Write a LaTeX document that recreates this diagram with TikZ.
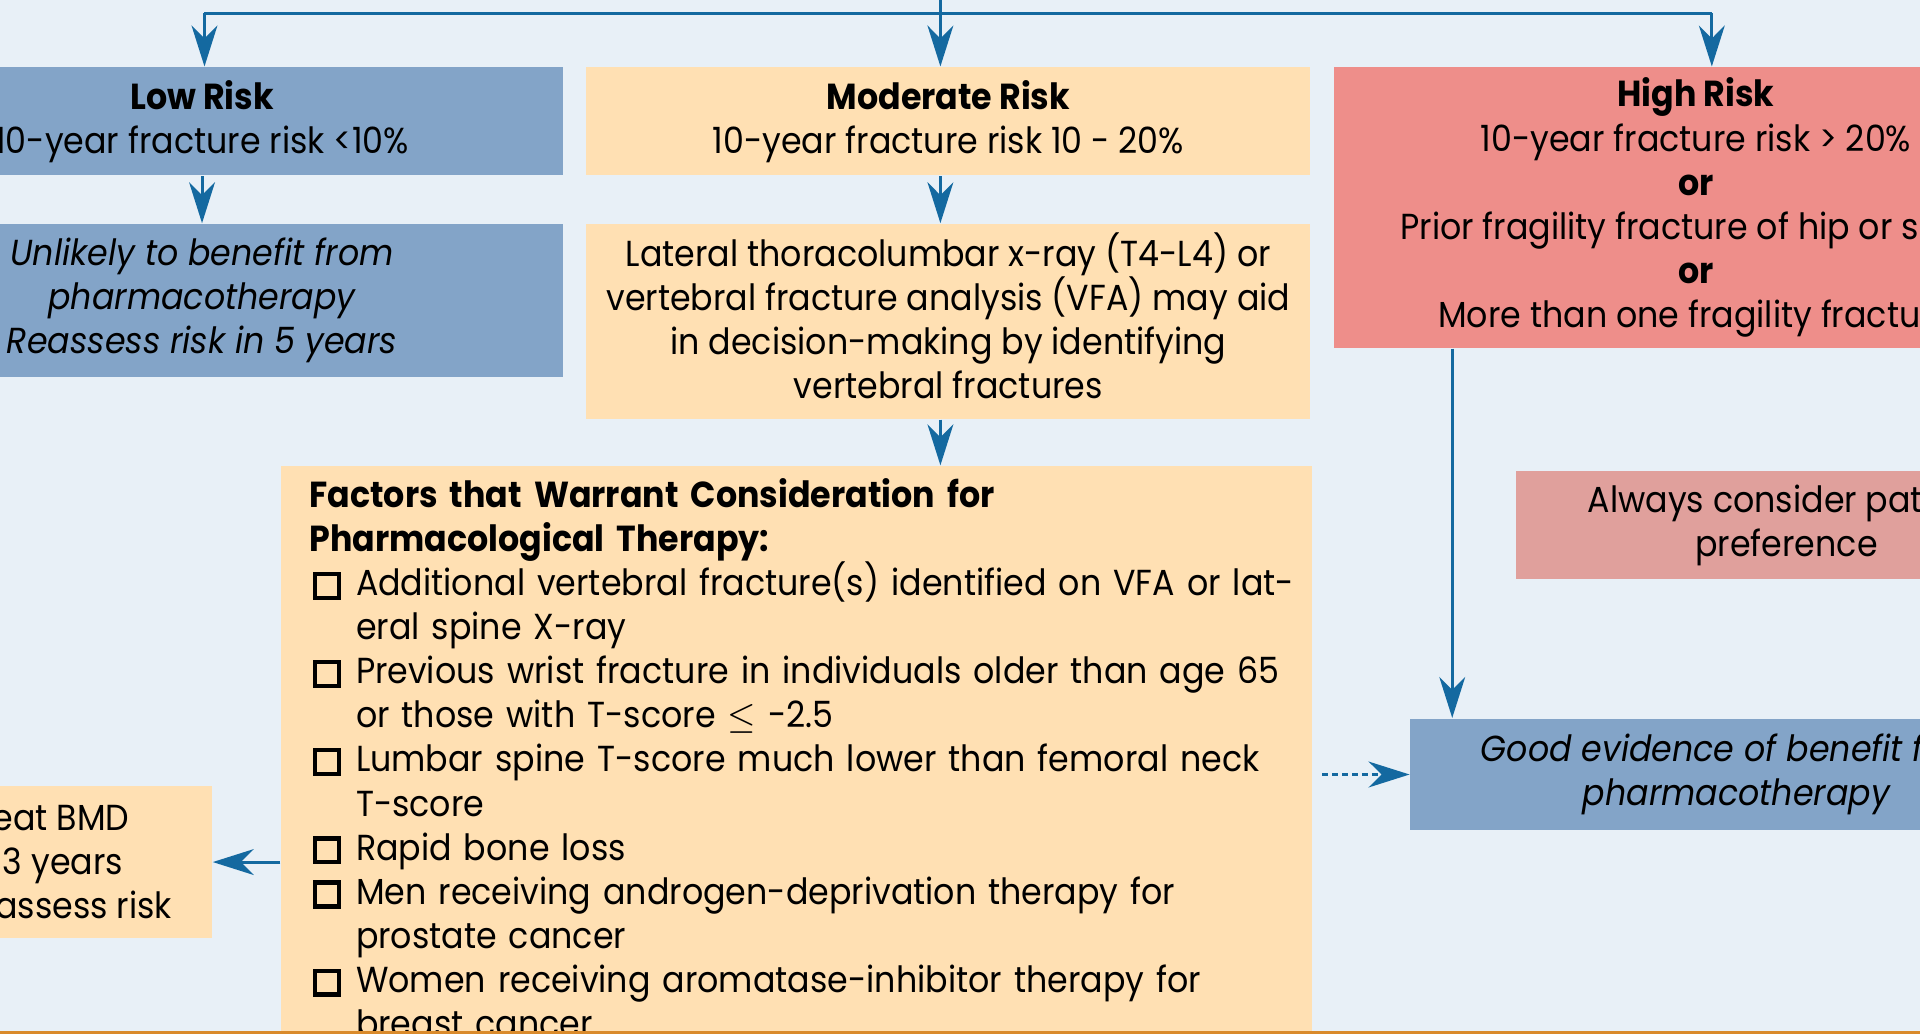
\documentclass[tikz,border=0pt]{standalone}
\usepackage{fontspec}
\setmainfont{Poppins}[FakeStretch=0.92]
\usetikzlibrary{arrows.meta,positioning}

\definecolor{bgblue}{HTML}{E8F0F7}
\definecolor{lowblue}{HTML}{83A4C8}
\definecolor{peach}{HTML}{FFE0B3}
\definecolor{salmon}{HTML}{EE8E8A}
\definecolor{rose}{HTML}{E0A09C}
\definecolor{linkblue}{HTML}{1469A0}
\definecolor{edgeorange}{HTML}{D98A2B}

\newcommand{\chk}{\makebox[0.38cm][l]{\hspace{0.03cm}\setlength\fboxrule{1pt}\setlength\fboxsep{0pt}%
  \fbox{\rule{0pt}{0.16cm}\rule{0.16cm}{0pt}}}}
\newcommand{\ind}{\hspace*{0.38cm}}

\begin{document}
\begin{tikzpicture}[x=0.01cm,y=-0.01cm,
                    >={Stealth[length=9.5pt,width=6pt,inset=3pt]},
                    box/.style={rectangle,inner sep=0pt,align=center,
                                font=\fontsize{8.4}{10.24}\selectfont},
                    itbox/.style={box,font=\fontsize{8.4}{10.24}\selectfont\itshape},
                    link/.style={->,draw=linkblue,line width=0.7pt}]

  \fill[bgblue] (0,0) rectangle (1568,844);
  \useasboundingbox (0,0) rectangle (1568,844);

  \node[box,fill=lowblue,minimum width=5.9cm,minimum height=0.88cm] (low) at (165,99)
       {\textbf{Low Risk}\\10-year fracture risk <10\%};
  \node[box,fill=peach,minimum width=5.91cm,minimum height=0.88cm] (mod) at (774.5,99)
       {\textbf{Moderate Risk}\\10-year fracture risk 10 - 20\%};
  \node[box,fill=salmon,minimum width=5.9cm,minimum height=2.29cm] (high) at (1385,169.5)
       {\textbf{High Risk}\\10-year fracture risk > 20\%\\\textbf{or}\\
        Prior fragility fracture of hip or spine\\\textbf{or}\\More than one fragility fracture};

  \node[itbox,fill=lowblue,minimum width=5.9cm,minimum height=1.25cm] (low2) at (165,245.5)
       {Unlikely to benefit from\\pharmacotherapy\\Reassess risk in 5 years};
  \node[box,fill=peach,minimum width=5.91cm,minimum height=1.59cm] (lat) at (774.5,262.5)
       {Lateral thoracolumbar x-ray (T4-L4) or\\vertebral fracture analysis (VFA) may aid\\
        in decision-making by identifying\\vertebral fractures\rule[-0.09cm]{0pt}{0pt}};

  \node[box,fill=peach,anchor=north west,align=left,minimum width=8.41cm,
        text width=7.95cm,inner xsep=0.23cm,inner ysep=0.1cm] (factors) at (229,380)
       {\textbf{Factors that Warrant Consideration for}\\
        \textbf{Pharmacological Therapy:}\\
        \chk\mbox{Additional vertebral fracture(s) identified on VFA or lat-}\\
        \ind eral spine X-ray\\
        \chk Previous wrist fracture in individuals older than age 65\\
        \ind or those with T-score $\leq$ -2.5\\
        \chk Lumbar spine T-score much lower than femoral neck\\
        \ind T-score\\
        \chk Rapid bone loss\\
        \chk Men receiving androgen-deprivation therapy for\\
        \ind prostate cancer\\
        \chk Women receiving aromatase-inhibitor therapy for\\
        \ind breast cancer\\
        \ind};

  \node[box,fill=peach,minimum width=2.98cm,minimum height=1.24cm] (bmd) at (24,704)
       {Repeat BMD\\in 1-3 years\\and reassess risk};
  \node[box,fill=rose,minimum width=4.42cm,minimum height=0.88cm] (always) at (1459,429)
       {Always consider patient\\preference};
  \node[itbox,fill=lowblue,minimum width=5.32cm,minimum height=0.91cm] (good) at (1418,632.5)
       {Good evidence of benefit from\\pharmacotherapy};

  % feed lines from the top
  \coordinate (feed) at (768,0);
  \coordinate (lowdrop) at (167,11);
  \coordinate (highdrop) at (1398,11);
  \coordinate (hdrop) at (1186,0);
  \draw[linkblue,line width=0.7pt] (lowdrop) -- (highdrop);
  \draw[link] (feed) -- (feed |- mod.north);
  \draw[link] (lowdrop) -- (lowdrop |- low.north);
  \draw[link] (highdrop) -- (highdrop |- high.north);

  \draw[link] (low.south) -- (low2.north);
  \draw[link] (feed |- mod.south) -- (feed |- lat.north);
  \draw[link] (feed |- lat.south) -- (feed |- factors.north);
  \draw[link] (hdrop |- high.south) -- (hdrop |- good.north);
  \draw[link] (factors.west |- bmd.east) -- (bmd.east);
  \draw[link,dash pattern=on 1.4pt off 0.9pt,shorten <=0.08cm] (factors.east |- good.west) -- (good.west);

  \draw[edgeorange,line width=0.8pt] (0,843.5) -- (1568,843.5);
\end{tikzpicture}
\end{document}
